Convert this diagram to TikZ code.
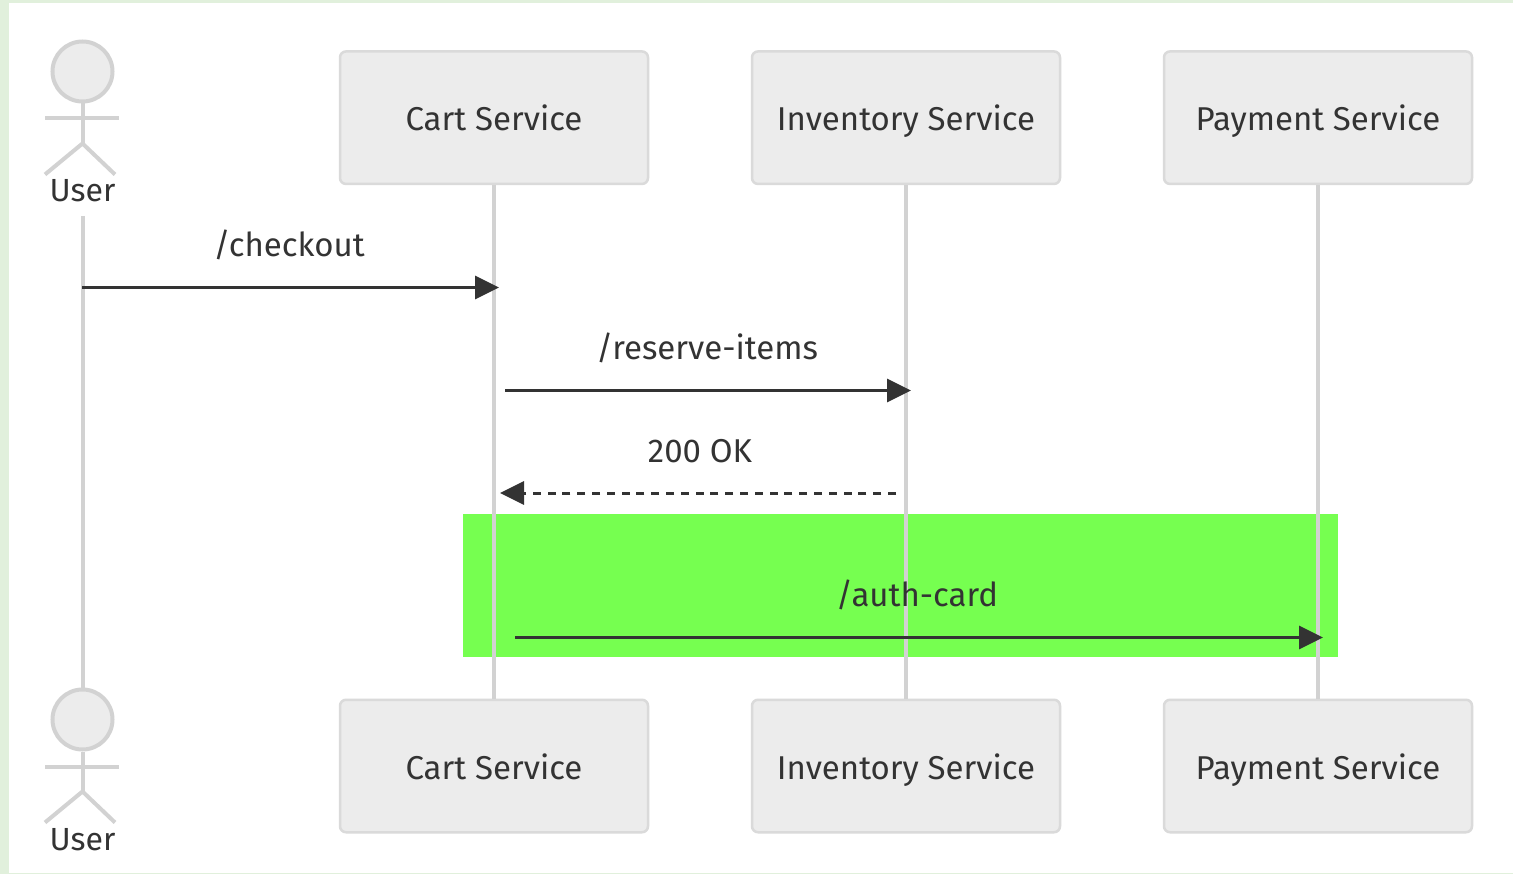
\documentclass[tikz,border=0pt]{standalone}
\usepackage{fontspec}
\setmainfont{Fira Sans}
\usetikzlibrary{arrows.meta}
\definecolor{pagegreen}{HTML}{E1F0DC}
\definecolor{boxfill}{HTML}{ECECEC}
\definecolor{boxline}{HTML}{DADADA}
\definecolor{lifegray}{HTML}{D2D2D2}
\definecolor{inkdark}{HTML}{333333}
\definecolor{rectgreen}{HTML}{76FF50}
\tikzset{
  x=1pt,y=-1pt,
  svcbox/.style={draw=boxline,fill=boxfill,line width=2.5pt,rounded corners=6pt,minimum width=308pt,minimum height=132.5pt,inner sep=0pt,text=inkdark,text height=30pt,text depth=4pt,font=\fontsize{33}{36}\selectfont},
  actorlabel/.style={text=inkdark,inner sep=0pt,font=\fontsize{32}{36}\selectfont},
  msglabel/.style={text=inkdark,inner sep=0pt,font=\fontsize{33}{36}\selectfont},
  lifeline/.style={draw=lifegray,line width=4pt},
  actorline/.style={draw=lifegray,line width=4pt},
  head/.style={circle,draw=lifegray,fill=boxfill,line width=4pt,minimum size=60pt,inner sep=0pt},
  msg/.style={draw=inkdark,line width=3pt,-{Triangle[length=24pt,width=23pt]}},
  msgdash/.style={msg,dash pattern=on 8pt off 6.8pt}
}
\newcommand{\actorfig}[3]{%
  \node[head] (#1head) at (82.5,#2) {};
  \coordinate (#1neck) at (82.5,#2+47);
  \coordinate (#1armL) at (45,#2+47);
  \coordinate (#1armR) at (119,#2+47);
  \coordinate (#1hip) at (82.5,#2+72);
  \coordinate (#1legL) at (45,#2+103);
  \coordinate (#1legR) at (115,#2+103);
  \draw[actorline] (#1head.south) -- (#1hip);
  \draw[actorline] (#1armL) -- (#1armR);
  \draw[actorline] (#1legL) -- (#1hip) -- (#1legR);
  \node[actorlabel] (#1label) at (82.5,#3) {User};
}
\begin{document}
\begin{tikzpicture}
\useasboundingbox (0,0) rectangle (1513,874);
\fill[pagegreen] (0,0) rectangle (1513,874);
\fill[white] (9,3.5) rectangle (1513,873.3);
\node[fill=rectgreen,minimum width=875pt,minimum height=143pt,inner sep=0pt,anchor=north west] (rect) at (463,514) {};
% boxes
\node[svcbox] (cartT) at (494,117.7) {Cart Service};
\node[svcbox] (invT) at (906,117.7) {Inventory Service};
\node[svcbox] (payT) at (1318,117.7) {Payment Service};
\node[svcbox] (cartB) at (494,766) {Cart Service};
\node[svcbox] (invB) at (906,766) {Inventory Service};
\node[svcbox] (payB) at (1318,766) {Payment Service};
% actors
\actorfig{ua}{71.5}{190.5}
\actorfig{ub}{719.5}{839.5}
% lifelines
\coordinate (userTop) at (82.5,216);
\draw[lifeline] (userTop) -- (ubhead.north);
\draw[lifeline] (cartT.south) -- (cartB.north);
\draw[lifeline] (invT.south) -- (invB.north);
\draw[lifeline] (payT.south) -- (payB.north);
% message ends
\coordinate (m1a) at (82,287.5); \coordinate (m1b) at (499,287.5);
\coordinate (m2a) at (505,390.5); \coordinate (m2b) at (911,390.5);
\coordinate (m3a) at (896,493); \coordinate (m3b) at (500,493);
\coordinate (m4a) at (515,637.5); \coordinate (m4b) at (1323,637.5);
\draw[msg] (m1a) -- (m1b);
\draw[msg] (m2a) -- (m2b);
\draw[msgdash] (m3a) -- (m3b);
\draw[msg] (m4a) -- (m4b);
\node[msglabel] (l1) at (289,245) {/checkout};
\node[msglabel] (l2) at (707,348) {/reserve-items};
\node[msglabel] (l3) at (700,451) {200 OK};
\node[msglabel] (l4) at (917,595) {/auth-card};
\end{tikzpicture}
\end{document}
